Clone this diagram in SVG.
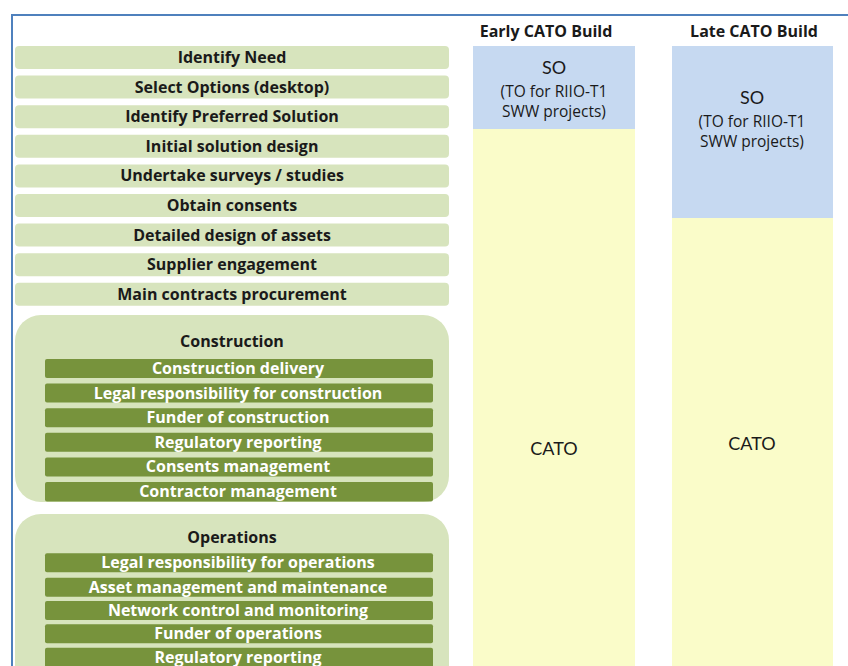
<svg xmlns="http://www.w3.org/2000/svg" width="848" height="666" viewBox="0 0 848 666">
  <style>
    .step { fill: #d7e4bd; }
    .group { fill: #d7e4bd; }
    .task { fill: #77933c; }
    .so { fill: #c6d9f1; }
    .cato { fill: #fafcc9; }
    .t-step { font-family: "Open Sans", Lato, sans-serif; font-weight: bold; font-size: 16px; fill: #1a1a1a; text-anchor: middle; }
    .t-task { font-family: "Open Sans", Lato, sans-serif; font-weight: bold; font-size: 16px; fill: #ffffff; text-anchor: middle; }
    .t-head { font-family: "Open Sans", Lato, sans-serif; font-weight: bold; font-size: 16px; fill: #1a1a1a; text-anchor: middle; }
    .t-role { font-family: "Open Sans", Lato, sans-serif; font-size: 15.5px; fill: #1a1a1a; text-anchor: middle; }
    .t-big { font-family: Lato, "Open Sans", sans-serif; font-size: 18px; fill: #1a1a1a; text-anchor: middle; }
  </style>

  <rect width="848" height="666" fill="#ffffff"/>

  <!-- frame -->
  <path d="M12 666 V15 H848" fill="none" stroke="#4f81bd" stroke-width="2"/>

  <!-- pre-construction steps -->
  <g id="identify-need"><rect class="step" x="15" y="46" width="434" height="23" rx="4"/><text class="t-step" x="232" y="63">Identify Need</text></g>
  <g id="select-options"><rect class="step" x="15" y="75.6" width="434" height="23" rx="4"/><text class="t-step" x="232" y="92.6">Select Options (desktop)</text></g>
  <g id="identify-preferred"><rect class="step" x="15" y="105.2" width="434" height="23" rx="4"/><text class="t-step" x="232" y="122.2">Identify Preferred Solution</text></g>
  <g id="initial-design"><rect class="step" x="15" y="134.8" width="434" height="23" rx="4"/><text class="t-step" x="232" y="151.8">Initial solution design</text></g>
  <g id="surveys"><rect class="step" x="15" y="164.4" width="434" height="23" rx="4"/><text class="t-step" x="232" y="181.4">Undertake surveys / studies</text></g>
  <g id="consents"><rect class="step" x="15" y="194" width="434" height="23" rx="4"/><text class="t-step" x="232" y="211">Obtain consents</text></g>
  <g id="detailed-design"><rect class="step" x="15" y="223.6" width="434" height="23" rx="4"/><text class="t-step" x="232" y="240.6">Detailed design of assets</text></g>
  <g id="supplier"><rect class="step" x="15" y="253.2" width="434" height="23" rx="4"/><text class="t-step" x="232" y="270.2">Supplier engagement</text></g>
  <g id="procurement"><rect class="step" x="15" y="282.8" width="434" height="23" rx="4"/><text class="t-step" x="232" y="299.8">Main contracts procurement</text></g>

  <!-- construction phase -->
  <g id="construction">
    <rect class="group" x="15" y="315" width="434" height="187" rx="26"/>
    <text class="t-head" x="232" y="347">Construction</text>
    <rect class="task" x="45" y="359" width="388" height="19" rx="2"/><text class="t-task" x="238" y="374">Construction delivery</text>
    <rect class="task" x="45" y="383.6" width="388" height="19" rx="2"/><text class="t-task" x="238" y="398.6">Legal responsibility for construction</text>
    <rect class="task" x="45" y="408.2" width="388" height="19" rx="2"/><text class="t-task" x="238" y="423.2">Funder of construction</text>
    <rect class="task" x="45" y="432.8" width="388" height="19" rx="2"/><text class="t-task" x="238" y="447.8">Regulatory reporting</text>
    <rect class="task" x="45" y="457.4" width="388" height="19" rx="2"/><text class="t-task" x="238" y="472.4">Consents management</text>
    <rect class="task" x="45" y="482" width="388" height="19.5" rx="2"/><text class="t-task" x="238" y="497">Contractor management</text>
  </g>

  <!-- operations phase -->
  <g id="operations">
    <rect class="group" x="15" y="514" width="434" height="180" rx="26"/>
    <text class="t-head" x="232" y="543">Operations</text>
    <rect class="task" x="45" y="553.3" width="388" height="19" rx="2"/><text class="t-task" x="238" y="568.3">Legal responsibility for operations</text>
    <rect class="task" x="45" y="577.7" width="388" height="19" rx="2"/><text class="t-task" x="238" y="592.7">Asset management and maintenance</text>
    <rect class="task" x="45" y="601" width="388" height="19" rx="2"/><text class="t-task" x="238" y="616">Network control and monitoring</text>
    <rect class="task" x="45" y="624.3" width="388" height="19" rx="2"/><text class="t-task" x="238" y="639.3">Funder of operations</text>
    <rect class="task" x="45" y="647.7" width="388" height="22" rx="2"/><text class="t-task" x="238" y="662.7">Regulatory reporting</text>
  </g>

  <!-- early CATO build column -->
  <g id="early-build">
    <text class="t-head" x="546" y="37">Early CATO Build</text>
    <rect class="so" x="473" y="46" width="162" height="83"/>
    <text class="t-big" x="554" y="74">SO</text>
    <text class="t-role" x="554" y="96.5">(TO for RIIO-T1</text>
    <text class="t-role" x="554" y="116.5">SWW projects)</text>
    <rect class="cato" x="473" y="129" width="162" height="537"/>
    <text class="t-big" x="554" y="455">CATO</text>
  </g>

  <!-- late CATO build column -->
  <g id="late-build">
    <text class="t-head" x="754" y="37">Late CATO Build</text>
    <rect class="so" x="672" y="46" width="161" height="172"/>
    <text class="t-big" x="752" y="104">SO</text>
    <text class="t-role" x="752" y="127">(TO for RIIO-T1</text>
    <text class="t-role" x="752" y="147">SWW projects)</text>
    <rect class="cato" x="672" y="218" width="161" height="448"/>
    <text class="t-big" x="752" y="450">CATO</text>
  </g>

  <g id="connectors"/>
</svg>
